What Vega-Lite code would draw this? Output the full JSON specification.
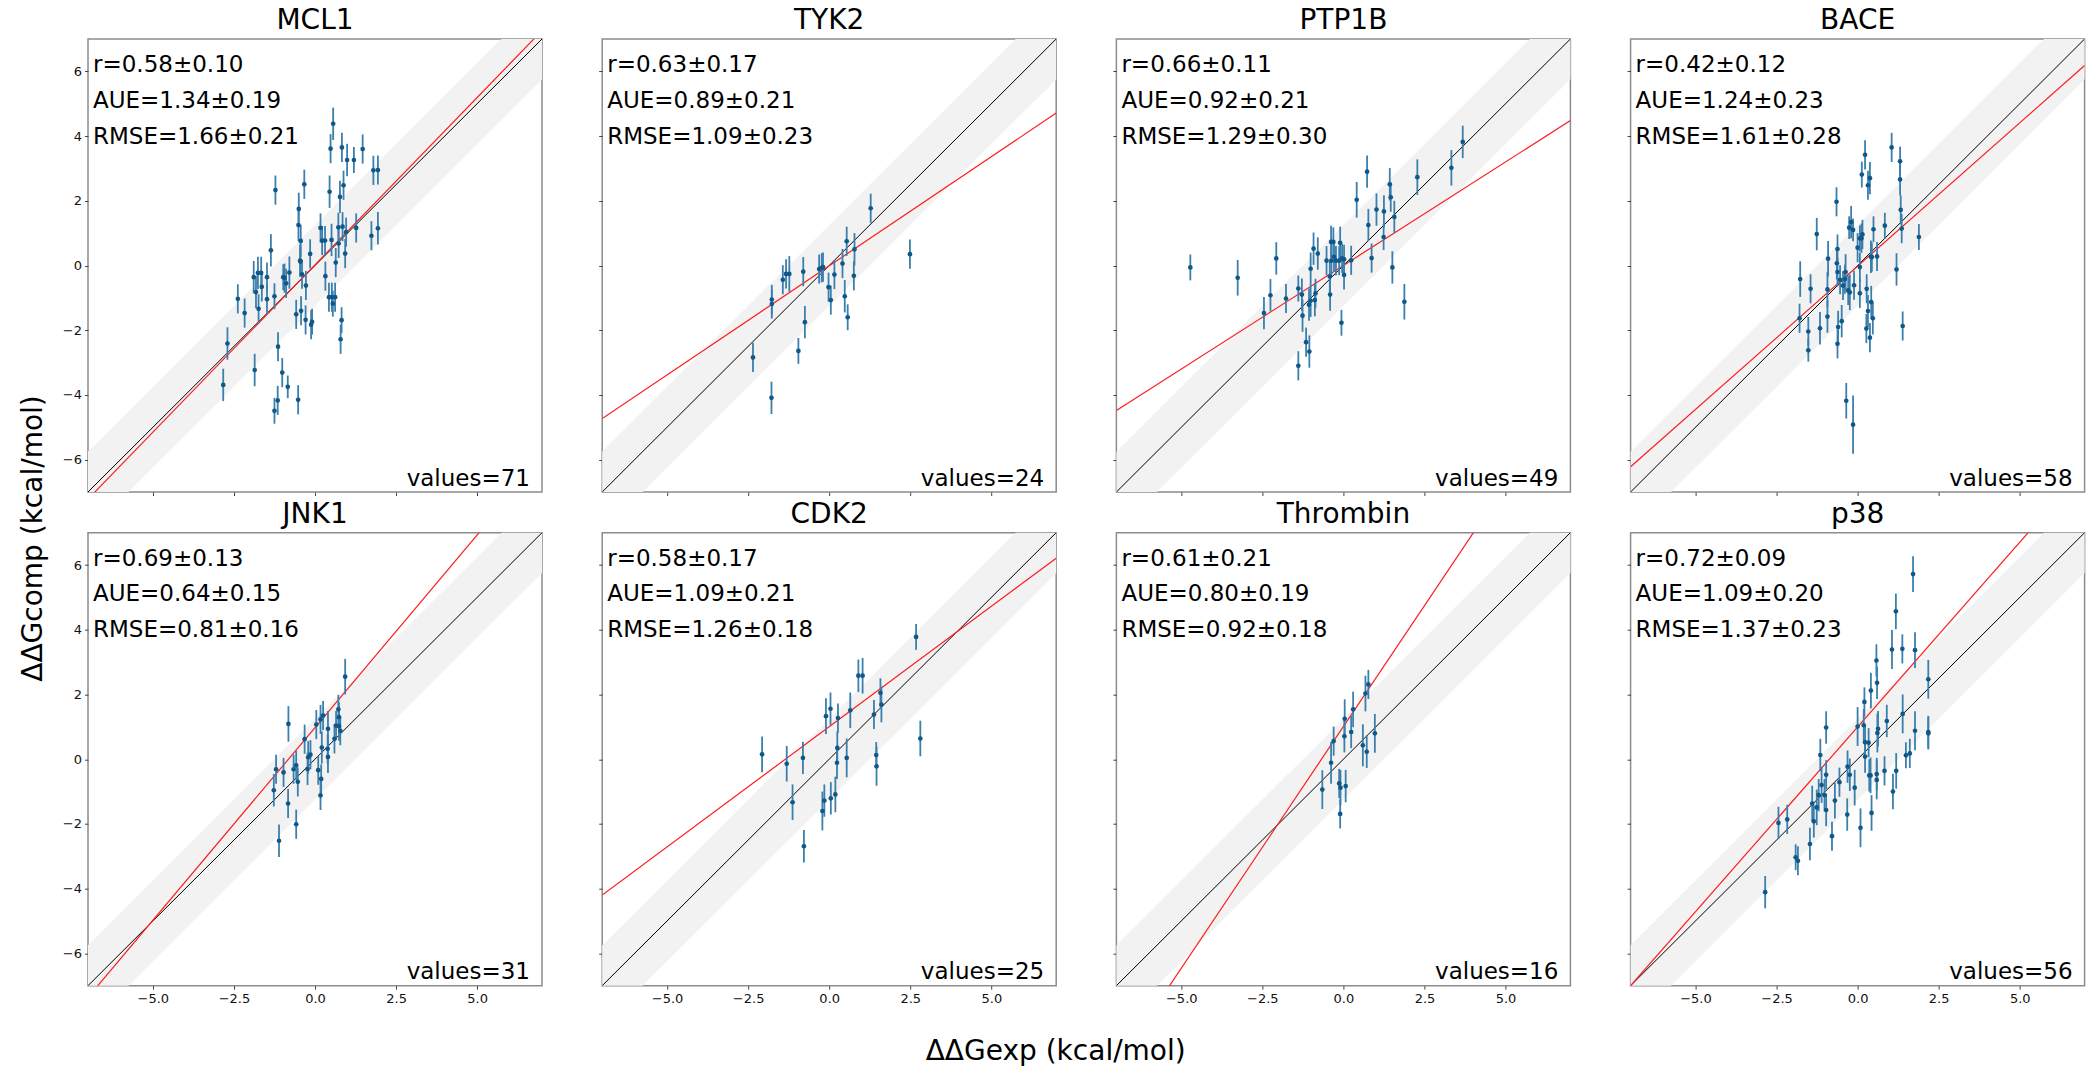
{
 "$schema": "https://vega.github.io/schema/vega-lite/v6.json",
 "background": "white",
 "padding": {"left": 18, "top": 6, "right": 5, "bottom": 5},
 "columns": 4,
 "spacing": {"row": 40.7, "column": 60.2},
 "bounds": "flush",
 "datasets": {
  "band": [{"x": -8, "y": -9.25, "y2": -6.75}, {"x": 8, "y": 6.75, "y2": 9.25}],
  "diag": [{"x": -7, "y": -7}, {"x": 7, "y": 7}],
  "fits": [
   {"panel": "MCL1", "x": -7, "y": -7.22}, {"panel": "MCL1", "x": 7, "y": 7.26},
   {"panel": "TYK2", "x": -7, "y": -4.73}, {"panel": "TYK2", "x": 7, "y": 4.71},
   {"panel": "PTP1B", "x": -7, "y": -4.48}, {"panel": "PTP1B", "x": 7, "y": 4.48},
   {"panel": "BACE", "x": -7, "y": -6.22}, {"panel": "BACE", "x": 7, "y": 6.18},
   {"panel": "JNK1", "x": -7, "y": -7.36}, {"panel": "JNK1", "x": 7, "y": 9.31},
   {"panel": "CDK2", "x": -7, "y": -4.2}, {"panel": "CDK2", "x": 7, "y": 6.21},
   {"panel": "Thrombin", "x": -7, "y": -9.45}, {"panel": "Thrombin", "x": 7, "y": 11.47},
   {"panel": "p38", "x": -7, "y": -7.0}, {"panel": "p38", "x": 7, "y": 8.99}
  ],
  "labels": [
   {"panel": "MCL1", "stats": "r=0.58±0.10\nAUE=1.34±0.19\nRMSE=1.66±0.21", "n": "values=71"},
   {"panel": "TYK2", "stats": "r=0.63±0.17\nAUE=0.89±0.21\nRMSE=1.09±0.23", "n": "values=24"},
   {"panel": "PTP1B", "stats": "r=0.66±0.11\nAUE=0.92±0.21\nRMSE=1.29±0.30", "n": "values=49"},
   {"panel": "BACE", "stats": "r=0.42±0.12\nAUE=1.24±0.23\nRMSE=1.61±0.28", "n": "values=58"},
   {"panel": "JNK1", "stats": "r=0.69±0.13\nAUE=0.64±0.15\nRMSE=0.81±0.16", "n": "values=31"},
   {"panel": "CDK2", "stats": "r=0.58±0.17\nAUE=1.09±0.21\nRMSE=1.26±0.18", "n": "values=25"},
   {"panel": "Thrombin", "stats": "r=0.61±0.21\nAUE=0.80±0.19\nRMSE=0.92±0.18", "n": "values=16"},
   {"panel": "p38", "stats": "r=0.72±0.09\nAUE=1.09±0.20\nRMSE=1.37±0.23", "n": "values=56"}
  ],
  "points": [
   {"panel":"MCL1","x":-1.22,"y":2.33,"err":0.45},{"panel":"MCL1","x":-2.83,"y":-3.69,"err":0.5},{"panel":"MCL1","x":-2.70,"y":-2.41,"err":0.5},{"panel":"MCL1","x":-2.38,"y":-1.03,"err":0.45},{"panel":"MCL1","x":-2.17,"y":-1.47,"err":0.45},{"panel":"MCL1","x":-1.89,"y":-0.36,"err":0.5},{"panel":"MCL1","x":-1.82,"y":-0.82,"err":0.5},{"panel":"MCL1","x":-1.76,"y":-0.23,"err":0.5},{"panel":"MCL1","x":-1.66,"y":-0.23,"err":0.5},{"panel":"MCL1","x":-1.74,"y":-1.34,"err":0.45},{"panel":"MCL1","x":-1.64,"y":-0.66,"err":0.45},{"panel":"MCL1","x":-1.48,"y":-0.36,"err":0.45},{"panel":"MCL1","x":-1.48,"y":-1.04,"err":0.45},{"panel":"MCL1","x":-1.36,"y":0.47,"err":0.5},{"panel":"MCL1","x":-1.25,"y":-0.95,"err":0.4},{"panel":"MCL1","x":-1.86,"y":-3.23,"err":0.5},{"panel":"MCL1","x":-1.25,"y":-4.49,"err":0.4},{"panel":"MCL1","x":-1.15,"y":-4.17,"err":0.45},{"panel":"MCL1","x":-1.14,"y":-2.51,"err":0.45},{"panel":"MCL1","x":-1.01,"y":-3.31,"err":0.45},{"panel":"MCL1","x":-0.84,"y":-3.75,"err":0.35},{"panel":"MCL1","x":-0.52,"y":-4.15,"err":0.45},{"panel":"MCL1","x":-0.98,"y":-0.36,"err":0.4},{"panel":"MCL1","x":-0.94,"y":-0.39,"err":0.45},{"panel":"MCL1","x":-0.89,"y":-0.55,"err":0.45},{"panel":"MCL1","x":-0.79,"y":-0.22,"err":0.5},{"panel":"MCL1","x":-0.58,"y":-1.51,"err":0.45},{"panel":"MCL1","x":-0.50,"y":1.75,"err":0.5},{"panel":"MCL1","x":-0.51,"y":1.25,"err":0.5},{"panel":"MCL1","x":-0.44,"y":0.76,"err":0.5},{"panel":"MCL1","x":-0.46,"y":0.15,"err":0.5},{"panel":"MCL1","x":-0.43,"y":-1.40,"err":0.45},{"panel":"MCL1","x":-0.40,"y":-0.27,"err":0.45},{"panel":"MCL1","x":-0.33,"y":2.51,"err":0.45},{"panel":"MCL1","x":-0.29,"y":-1.68,"err":0.45},{"panel":"MCL1","x":-0.28,"y":-0.62,"err":0.45},{"panel":"MCL1","x":-0.15,"y":0.36,"err":0.45},{"panel":"MCL1","x":-0.12,"y":-1.83,"err":0.45},{"panel":"MCL1","x":-0.09,"y":-1.74,"err":0.4},{"panel":"MCL1","x":0.17,"y":1.16,"err":0.45},{"panel":"MCL1","x":0.22,"y":0.77,"err":0.45},{"panel":"MCL1","x":0.31,"y":0.77,"err":0.45},{"panel":"MCL1","x":0.32,"y":-0.33,"err":0.45},{"panel":"MCL1","x":0.45,"y":2.28,"err":0.5},{"panel":"MCL1","x":0.43,"y":-0.98,"err":0.45},{"panel":"MCL1","x":0.48,"y":3.61,"err":0.45},{"panel":"MCL1","x":0.51,"y":0.79,"err":0.5},{"panel":"MCL1","x":0.56,"y":4.38,"err":0.5},{"panel":"MCL1","x":0.52,"y":-0.98,"err":0.45},{"panel":"MCL1","x":0.55,"y":-1.18,"err":0.4},{"panel":"MCL1","x":0.62,"y":-0.98,"err":0.45},{"panel":"MCL1","x":0.64,"y":0.09,"err":0.45},{"panel":"MCL1","x":0.73,"y":0.68,"err":0.45},{"panel":"MCL1","x":0.77,"y":2.12,"err":0.5},{"panel":"MCL1","x":0.79,"y":-2.28,"err":0.45},{"panel":"MCL1","x":0.82,"y":-1.69,"err":0.4},{"panel":"MCL1","x":0.83,"y":3.65,"err":0.45},{"panel":"MCL1","x":0.85,"y":1.20,"err":0.45},{"panel":"MCL1","x":0.88,"y":2.48,"err":0.45},{"panel":"MCL1","x":0.93,"y":0.37,"err":0.45},{"panel":"MCL1","x":0.96,"y":1.03,"err":0.45},{"panel":"MCL1","x":0.99,"y":3.26,"err":0.5},{"panel":"MCL1","x":1.20,"y":3.26,"err":0.4},{"panel":"MCL1","x":1.27,"y":1.16,"err":0.45},{"panel":"MCL1","x":1.47,"y":3.60,"err":0.45},{"panel":"MCL1","x":1.74,"y":0.92,"err":0.45},{"panel":"MCL1","x":1.80,"y":2.94,"err":0.45},{"panel":"MCL1","x":1.94,"y":2.95,"err":0.45},{"panel":"MCL1","x":1.94,"y":1.15,"err":0.5},{"panel":"MCL1","x":0.72,"y":1.18,"err":0.45},{"panel":"MCL1","x":-0.45,"y":0.12,"err":0.45},
   {"panel":"TYK2","x":1.28,"y":1.77,"err":0.45},{"panel":"TYK2","x":0.54,"y":0.75,"err":0.45},{"panel":"TYK2","x":0.78,"y":0.50,"err":0.5},{"panel":"TYK2","x":0.41,"y":0.06,"err":0.45},{"panel":"TYK2","x":0.16,"y":-0.28,"err":0.45},{"panel":"TYK2","x":0.76,"y":-0.32,"err":0.45},{"panel":"TYK2","x":-0.02,"y":-0.67,"err":0.45},{"panel":"TYK2","x":0.05,"y":-1.07,"err":0.45},{"panel":"TYK2","x":0.48,"y":-0.95,"err":0.5},{"panel":"TYK2","x":0.57,"y":-1.60,"err":0.4},{"panel":"TYK2","x":-0.31,"y":-0.11,"err":0.45},{"panel":"TYK2","x":-0.23,"y":-0.07,"err":0.45},{"panel":"TYK2","x":-0.19,"y":-0.05,"err":0.45},{"panel":"TYK2","x":-0.80,"y":-0.19,"err":0.45},{"panel":"TYK2","x":-1.33,"y":-0.26,"err":0.45},{"panel":"TYK2","x":-1.23,"y":-0.26,"err":0.55},{"panel":"TYK2","x":-1.43,"y":-0.44,"err":0.45},{"panel":"TYK2","x":-1.77,"y":-1.05,"err":0.45},{"panel":"TYK2","x":-1.77,"y":-1.19,"err":0.45},{"panel":"TYK2","x":-0.75,"y":-1.75,"err":0.5},{"panel":"TYK2","x":-0.95,"y":-2.64,"err":0.4},{"panel":"TYK2","x":-2.35,"y":-2.84,"err":0.45},{"panel":"TYK2","x":-1.78,"y":-4.09,"err":0.5},{"panel":"TYK2","x":2.49,"y":0.35,"err":0.45},
   {"panel":"PTP1B","x":-4.72,"y":-0.06,"err":0.4},{"panel":"PTP1B","x":-3.26,"y":-0.38,"err":0.55},{"panel":"PTP1B","x":-2.07,"y":0.22,"err":0.5},{"panel":"PTP1B","x":-2.45,"y":-1.47,"err":0.5},{"panel":"PTP1B","x":-2.25,"y":-0.92,"err":0.5},{"panel":"PTP1B","x":-1.77,"y":-1.02,"err":0.45},{"panel":"PTP1B","x":-1.39,"y":-0.71,"err":0.4},{"panel":"PTP1B","x":-1.28,"y":-0.90,"err":0.5},{"panel":"PTP1B","x":-1.39,"y":-3.10,"err":0.45},{"panel":"PTP1B","x":-1.26,"y":-1.55,"err":0.5},{"panel":"PTP1B","x":-1.15,"y":-2.37,"err":0.45},{"panel":"PTP1B","x":-1.05,"y":-2.66,"err":0.5},{"panel":"PTP1B","x":-1.06,"y":-1.21,"err":0.5},{"panel":"PTP1B","x":-1.01,"y":-1.09,"err":0.5},{"panel":"PTP1B","x":-0.88,"y":-1.07,"err":0.5},{"panel":"PTP1B","x":-0.86,"y":-0.86,"err":0.45},{"panel":"PTP1B","x":-1.01,"y":-0.10,"err":0.5},{"panel":"PTP1B","x":-0.92,"y":0.52,"err":0.5},{"panel":"PTP1B","x":-0.79,"y":0.37,"err":0.5},{"panel":"PTP1B","x":-0.52,"y":0.15,"err":0.45},{"panel":"PTP1B","x":-0.42,"y":-0.34,"err":0.5},{"panel":"PTP1B","x":-0.41,"y":-0.90,"err":0.5},{"panel":"PTP1B","x":-0.38,"y":0.73,"err":0.5},{"panel":"PTP1B","x":-0.31,"y":0.73,"err":0.45},{"panel":"PTP1B","x":-0.37,"y":0.15,"err":0.5},{"panel":"PTP1B","x":-0.29,"y":0.27,"err":0.45},{"panel":"PTP1B","x":-0.23,"y":0.15,"err":0.45},{"panel":"PTP1B","x":-0.10,"y":0.70,"err":0.5},{"panel":"PTP1B","x":-0.06,"y":-1.77,"err":0.4},{"panel":"PTP1B","x":-0.04,"y":0.22,"err":0.45},{"panel":"PTP1B","x":0.02,"y":0.19,"err":0.45},{"panel":"PTP1B","x":0.02,"y":-0.29,"err":0.45},{"panel":"PTP1B","x":0.24,"y":0.16,"err":0.45},{"panel":"PTP1B","x":0.41,"y":2.03,"err":0.55},{"panel":"PTP1B","x":0.73,"y":2.90,"err":0.5},{"panel":"PTP1B","x":0.77,"y":1.25,"err":0.5},{"panel":"PTP1B","x":0.87,"y":0.23,"err":0.45},{"panel":"PTP1B","x":1.02,"y":1.73,"err":0.5},{"panel":"PTP1B","x":1.25,"y":1.67,"err":0.5},{"panel":"PTP1B","x":1.24,"y":0.88,"err":0.4},{"panel":"PTP1B","x":1.43,"y":2.51,"err":0.5},{"panel":"PTP1B","x":1.46,"y":2.11,"err":0.45},{"panel":"PTP1B","x":1.57,"y":1.50,"err":0.5},{"panel":"PTP1B","x":1.51,"y":-0.06,"err":0.5},{"panel":"PTP1B","x":1.88,"y":-1.12,"err":0.55},{"panel":"PTP1B","x":2.28,"y":2.73,"err":0.55},{"panel":"PTP1B","x":3.33,"y":3.02,"err":0.55},{"panel":"PTP1B","x":3.68,"y":3.82,"err":0.5},{"panel":"PTP1B","x":-0.13,"y":0.15,"err":0.45},
   {"panel":"BACE","x":1.05,"y":3.65,"err":0.45},{"panel":"BACE","x":0.23,"y":3.42,"err":0.45},{"panel":"BACE","x":0.13,"y":2.81,"err":0.4},{"panel":"BACE","x":0.38,"y":2.70,"err":0.5},{"panel":"BACE","x":0.32,"y":2.48,"err":0.45},{"panel":"BACE","x":1.31,"y":3.22,"err":0.45},{"panel":"BACE","x":1.31,"y":2.66,"err":0.5},{"panel":"BACE","x":-0.65,"y":1.97,"err":0.45},{"panel":"BACE","x":1.33,"y":1.72,"err":0.45},{"panel":"BACE","x":-1.26,"y":0.97,"err":0.5},{"panel":"BACE","x":-0.26,"y":1.17,"err":0.35},{"panel":"BACE","x":-0.20,"y":1.34,"err":0.5},{"panel":"BACE","x":-0.14,"y":1.10,"err":0.35},{"panel":"BACE","x":0.15,"y":0.96,"err":0.45},{"panel":"BACE","x":0.07,"y":0.84,"err":0.4},{"panel":"BACE","x":0.00,"y":0.55,"err":0.45},{"panel":"BACE","x":0.12,"y":0.84,"err":0.45},{"panel":"BACE","x":0.49,"y":1.12,"err":0.4},{"panel":"BACE","x":0.84,"y":1.23,"err":0.4},{"panel":"BACE","x":1.36,"y":1.14,"err":0.45},{"panel":"BACE","x":1.89,"y":0.88,"err":0.4},{"panel":"BACE","x":-0.62,"y":0.51,"err":0.45},{"panel":"BACE","x":-0.91,"y":0.21,"err":0.55},{"panel":"BACE","x":-0.64,"y":0.07,"err":0.5},{"panel":"BACE","x":-0.62,"y":-0.20,"err":0.45},{"panel":"BACE","x":-0.37,"y":-0.20,"err":0.55},{"panel":"BACE","x":-0.39,"y":-0.42,"err":0.45},{"panel":"BACE","x":-0.54,"y":-0.44,"err":0.45},{"panel":"BACE","x":-0.45,"y":-0.62,"err":0.45},{"panel":"BACE","x":-0.29,"y":-0.77,"err":0.45},{"panel":"BACE","x":-0.24,"y":-0.83,"err":0.55},{"panel":"BACE","x":-0.11,"y":-0.61,"err":0.45},{"panel":"BACE","x":0.07,"y":-0.05,"err":0.45},{"panel":"BACE","x":0.41,"y":0.27,"err":0.5},{"panel":"BACE","x":0.60,"y":0.28,"err":0.45},{"panel":"BACE","x":0.44,"y":0.26,"err":0.45},{"panel":"BACE","x":1.20,"y":-0.12,"err":0.5},{"panel":"BACE","x":-1.77,"y":-0.42,"err":0.55},{"panel":"BACE","x":-1.45,"y":-0.72,"err":0.45},{"panel":"BACE","x":-0.93,"y":-0.74,"err":0.55},{"panel":"BACE","x":0.07,"y":-0.86,"err":0.45},{"panel":"BACE","x":0.28,"y":-0.72,"err":0.45},{"panel":"BACE","x":0.42,"y":-1.13,"err":0.5},{"panel":"BACE","x":0.32,"y":-1.41,"err":0.5},{"panel":"BACE","x":0.47,"y":-1.63,"err":0.5},{"panel":"BACE","x":-1.79,"y":-1.63,"err":0.45},{"panel":"BACE","x":-1.52,"y":-2.04,"err":0.45},{"panel":"BACE","x":-1.16,"y":-1.94,"err":0.5},{"panel":"BACE","x":-0.93,"y":-1.58,"err":0.5},{"panel":"BACE","x":-0.49,"y":-1.72,"err":0.5},{"panel":"BACE","x":-0.60,"y":-1.90,"err":0.5},{"panel":"BACE","x":0.27,"y":-1.95,"err":0.45},{"panel":"BACE","x":0.38,"y":-2.23,"err":0.45},{"panel":"BACE","x":-0.62,"y":-2.42,"err":0.45},{"panel":"BACE","x":-1.52,"y":-2.62,"err":0.35},{"panel":"BACE","x":1.39,"y":-1.87,"err":0.45},{"panel":"BACE","x":-0.35,"y":-4.18,"err":0.55},{"panel":"BACE","x":-0.14,"y":-4.92,"err":0.9},
   {"panel":"JNK1","x":0.93,"y":2.55,"err":0.55},{"panel":"JNK1","x":0.72,"y":1.54,"err":0.45},{"panel":"JNK1","x":0.74,"y":1.30,"err":0.45},{"panel":"JNK1","x":0.74,"y":1.02,"err":0.45},{"panel":"JNK1","x":0.65,"y":1.04,"err":0.45},{"panel":"JNK1","x":0.78,"y":0.88,"err":0.45},{"panel":"JNK1","x":0.60,"y":0.63,"err":0.45},{"panel":"JNK1","x":0.40,"y":0.94,"err":0.55},{"panel":"JNK1","x":0.25,"y":1.35,"err":0.45},{"panel":"JNK1","x":0.17,"y":1.23,"err":0.45},{"panel":"JNK1","x":0.04,"y":1.07,"err":0.45},{"panel":"JNK1","x":0.21,"y":0.36,"err":0.5},{"panel":"JNK1","x":0.39,"y":0.32,"err":0.45},{"panel":"JNK1","x":0.40,"y":0.07,"err":0.5},{"panel":"JNK1","x":0.10,"y":-0.34,"err":0.45},{"panel":"JNK1","x":0.19,"y":-0.61,"err":0.45},{"panel":"JNK1","x":0.17,"y":-1.12,"err":0.45},{"panel":"JNK1","x":-0.32,"y":0.62,"err":0.45},{"panel":"JNK1","x":-0.14,"y":0.14,"err":0.45},{"panel":"JNK1","x":-0.21,"y":0.06,"err":0.5},{"panel":"JNK1","x":-0.23,"y":-0.30,"err":0.5},{"panel":"JNK1","x":-0.82,"y":1.09,"err":0.55},{"panel":"JNK1","x":-0.58,"y":-0.19,"err":0.45},{"panel":"JNK1","x":-0.66,"y":-0.31,"err":0.45},{"panel":"JNK1","x":-0.53,"y":-0.70,"err":0.45},{"panel":"JNK1","x":-0.97,"y":-0.41,"err":0.45},{"panel":"JNK1","x":-1.20,"y":-0.31,"err":0.45},{"panel":"JNK1","x":-1.27,"y":-0.96,"err":0.5},{"panel":"JNK1","x":-0.83,"y":-1.37,"err":0.45},{"panel":"JNK1","x":-0.58,"y":-2.01,"err":0.45},{"panel":"JNK1","x":-1.11,"y":-2.52,"err":0.5},
   {"panel":"CDK2","x":2.68,"y":3.78,"err":0.4},{"panel":"CDK2","x":0.90,"y":2.58,"err":0.5},{"panel":"CDK2","x":1.03,"y":2.58,"err":0.55},{"panel":"CDK2","x":1.58,"y":2.05,"err":0.45},{"panel":"CDK2","x":1.61,"y":1.69,"err":0.55},{"panel":"CDK2","x":1.38,"y":1.38,"err":0.45},{"panel":"CDK2","x":0.65,"y":1.51,"err":0.55},{"panel":"CDK2","x":0.04,"y":1.56,"err":0.5},{"panel":"CDK2","x":-0.10,"y":1.33,"err":0.55},{"panel":"CDK2","x":0.27,"y":1.27,"err":0.45},{"panel":"CDK2","x":0.25,"y":0.35,"err":0.5},{"panel":"CDK2","x":0.24,"y":-0.11,"err":0.5},{"panel":"CDK2","x":0.54,"y":0.04,"err":0.6},{"panel":"CDK2","x":1.45,"y":0.13,"err":0.4},{"panel":"CDK2","x":1.46,"y":-0.22,"err":0.6},{"panel":"CDK2","x":2.81,"y":0.64,"err":0.55},{"panel":"CDK2","x":-2.07,"y":0.15,"err":0.55},{"panel":"CDK2","x":-1.31,"y":-0.14,"err":0.55},{"panel":"CDK2","x":-0.81,"y":0.04,"err":0.5},{"panel":"CDK2","x":-1.13,"y":-1.33,"err":0.55},{"panel":"CDK2","x":-0.15,"y":-1.28,"err":0.5},{"panel":"CDK2","x":-0.21,"y":-1.60,"err":0.6},{"panel":"CDK2","x":0.05,"y":-1.21,"err":0.5},{"panel":"CDK2","x":0.19,"y":-1.09,"err":0.55},{"panel":"CDK2","x":-0.78,"y":-2.69,"err":0.5},
   {"panel":"Thrombin","x":0.77,"y":2.31,"err":0.45},{"panel":"Thrombin","x":0.68,"y":2.03,"err":0.55},{"panel":"Thrombin","x":0.30,"y":1.54,"err":0.55},{"panel":"Thrombin","x":0.04,"y":1.25,"err":0.6},{"panel":"Thrombin","x":0.24,"y":0.84,"err":0.5},{"panel":"Thrombin","x":0.03,"y":0.71,"err":0.5},{"panel":"Thrombin","x":-0.30,"y":0.56,"err":0.45},{"panel":"Thrombin","x":0.60,"y":0.43,"err":0.65},{"panel":"Thrombin","x":0.72,"y":0.23,"err":0.5},{"panel":"Thrombin","x":0.97,"y":0.80,"err":0.6},{"panel":"Thrombin","x":-0.38,"y":-0.11,"err":0.65},{"panel":"Thrombin","x":-0.13,"y":-0.75,"err":0.45},{"panel":"Thrombin","x":-0.09,"y":-0.88,"err":0.55},{"panel":"Thrombin","x":0.07,"y":-0.83,"err":0.5},{"panel":"Thrombin","x":-0.65,"y":-0.94,"err":0.6},{"panel":"Thrombin","x":-0.10,"y":-1.69,"err":0.45},
   {"panel":"p38","x":1.71,"y":5.72,"err":0.55},{"panel":"p38","x":1.18,"y":4.57,"err":0.55},{"panel":"p38","x":1.06,"y":3.39,"err":0.6},{"panel":"p38","x":1.38,"y":3.41,"err":0.45},{"panel":"p38","x":1.77,"y":3.37,"err":0.55},{"panel":"p38","x":0.58,"y":3.05,"err":0.5},{"panel":"p38","x":0.60,"y":2.36,"err":0.5},{"panel":"p38","x":0.41,"y":2.12,"err":0.55},{"panel":"p38","x":0.21,"y":1.77,"err":0.45},{"panel":"p38","x":2.18,"y":2.47,"err":0.6},{"panel":"p38","x":1.39,"y":1.40,"err":0.6},{"panel":"p38","x":0.90,"y":1.18,"err":0.5},{"panel":"p38","x":0.63,"y":0.94,"err":0.55},{"panel":"p38","x":0.61,"y":0.81,"err":0.6},{"panel":"p38","x":1.77,"y":0.88,"err":0.6},{"panel":"p38","x":2.18,"y":0.84,"err":0.5},{"panel":"p38","x":2.18,"y":0.80,"err":0.5},{"panel":"p38","x":-0.97,"y":0.98,"err":0.5},{"panel":"p38","x":0.00,"y":1.01,"err":0.6},{"panel":"p38","x":0.19,"y":1.05,"err":0.5},{"panel":"p38","x":0.23,"y":0.52,"err":0.5},{"panel":"p38","x":0.34,"y":0.51,"err":0.45},{"panel":"p38","x":0.23,"y":0.08,"err":0.5},{"panel":"p38","x":-1.15,"y":0.13,"err":0.5},{"panel":"p38","x":1.49,"y":0.12,"err":0.4},{"panel":"p38","x":1.61,"y":0.18,"err":0.45},{"panel":"p38","x":-0.31,"y":-0.23,"err":0.5},{"panel":"p38","x":-0.24,"y":-0.48,"err":0.5},{"panel":"p38","x":0.40,"y":-0.50,"err":0.55},{"panel":"p38","x":0.59,"y":-0.46,"err":0.5},{"panel":"p38","x":0.59,"y":-0.64,"err":0.6},{"panel":"p38","x":0.83,"y":-0.36,"err":0.45},{"panel":"p38","x":1.19,"y":-0.36,"err":0.55},{"panel":"p38","x":-0.97,"y":-0.48,"err":0.45},{"panel":"p38","x":-1.11,"y":-0.80,"err":0.55},{"panel":"p38","x":-0.56,"y":-0.71,"err":0.45},{"panel":"p38","x":-1.20,"y":-1.11,"err":0.5},{"panel":"p38","x":-0.09,"y":-0.88,"err":0.55},{"panel":"p38","x":1.09,"y":-1.00,"err":0.55},{"panel":"p38","x":-1.40,"y":-1.37,"err":0.55},{"panel":"p38","x":-1.26,"y":-1.49,"err":0.55},{"panel":"p38","x":-0.70,"y":-1.28,"err":0.55},{"panel":"p38","x":-0.97,"y":-1.57,"err":0.5},{"panel":"p38","x":-1.35,"y":-1.92,"err":0.5},{"panel":"p38","x":-0.32,"y":-1.71,"err":0.5},{"panel":"p38","x":0.43,"y":-1.66,"err":0.55},{"panel":"p38","x":0.09,"y":-2.12,"err":0.6},{"panel":"p38","x":-0.79,"y":-2.38,"err":0.45},{"panel":"p38","x":-1.47,"y":-2.62,"err":0.5},{"panel":"p38","x":-2.44,"y":-1.97,"err":0.5},{"panel":"p38","x":-2.17,"y":-1.86,"err":0.45},{"panel":"p38","x":-1.91,"y":-3.03,"err":0.4},{"panel":"p38","x":-1.84,"y":-3.14,"err":0.45},{"panel":"p38","x":-2.85,"y":-4.11,"err":0.5},{"panel":"p38","x":-1.02,"y":-1.11,"err":0.5},{"panel":"p38","x":0.36,"y":-0.50,"err":0.5}
  ]
 },
 "concat": [
  {"width": 454, "height": 453, "title": "MCL1",
   "layer": [
    {"encoding": {"x": {"field": "x", "type": "quantitative", "scale": {"domain": [-7, 7], "nice": false, "zero": false}, "axis": {"values": [-5, -2.5, 0, 2.5, 5], "format": ".1f", "labels": false, "title": null}},
                  "y": {"field": "y", "type": "quantitative", "scale": {"domain": [-7, 7], "nice": false, "zero": false}, "axis": {"values": [-6, -4, -2, 0, 2, 4, 6], "labels": true, "title": "ΔΔGcomp (kcal/mol)", "titleX": -55, "titleY": 499, "titleAngle": 270, "titleAlign": "center", "titleBaseline": "middle"}}},
     "layer": [
      {"data": {"name": "band"}, "mark": {"type": "area", "color": "#f2f2f2", "clip": true}, "encoding": {"y2": {"field": "y2"}}},
      {"data": {"name": "diag"}, "mark": {"type": "line", "color": "#000000", "strokeWidth": 1, "clip": true}, "encoding": {}},
      {"data": {"name": "fits"}, "transform": [{"filter": "datum.panel === 'MCL1'"}], "mark": {"type": "line", "color": "#ff1a1a", "strokeWidth": 1.2, "clip": true}, "encoding": {}},
      {"data": {"name": "points"}, "transform": [{"filter": "datum.panel === 'MCL1'"}], "mark": {"type": "errorbar", "ticks": false, "thickness": 1.8, "color": "#3b7fad"}, "encoding": {"yError": {"field": "err"}}},
      {"data": {"name": "points"}, "transform": [{"filter": "datum.panel === 'MCL1'"}], "mark": {"type": "circle", "size": 22, "color": "#105888", "opacity": 1}, "encoding": {}}
     ]},
    {"data": {"name": "labels"}, "transform": [{"filter": "datum.panel === 'MCL1'"}], "mark": {"type": "text", "align": "left", "baseline": "middle", "lineBreak": "\n", "lineHeight": 35.8, "fontSize": 23, "dx": 5, "dy": 26, "fill": "#000000"}, "encoding": {"x": {"datum": -7, "type": "quantitative", "scale": {"domain": [-7, 7], "nice": false, "zero": false}}, "y": {"datum": 7, "type": "quantitative", "scale": {"domain": [-7, 7], "nice": false, "zero": false}}, "text": {"field": "stats", "type": "nominal"}}},
    {"data": {"name": "labels"}, "transform": [{"filter": "datum.panel === 'MCL1'"}], "mark": {"type": "text", "align": "right", "baseline": "middle", "fontSize": 23, "dx": -12, "dy": -13.5, "fill": "#000000"}, "encoding": {"x": {"datum": 7, "type": "quantitative", "scale": {"domain": [-7, 7], "nice": false, "zero": false}}, "y": {"datum": -7, "type": "quantitative", "scale": {"domain": [-7, 7], "nice": false, "zero": false}}, "text": {"field": "n", "type": "nominal"}}}
   ]},
  {"width": 454, "height": 453, "title": "TYK2",
   "layer": [
    {"encoding": {"x": {"field": "x", "type": "quantitative", "scale": {"domain": [-7, 7], "nice": false, "zero": false}, "axis": {"values": [-5, -2.5, 0, 2.5, 5], "format": ".1f", "labels": false, "title": null}},
                  "y": {"field": "y", "type": "quantitative", "scale": {"domain": [-7, 7], "nice": false, "zero": false}, "axis": {"values": [-6, -4, -2, 0, 2, 4, 6], "labels": false, "title": null}}},
     "layer": [
      {"data": {"name": "band"}, "mark": {"type": "area", "color": "#f2f2f2", "clip": true}, "encoding": {"y2": {"field": "y2"}}},
      {"data": {"name": "diag"}, "mark": {"type": "line", "color": "#000000", "strokeWidth": 1, "clip": true}, "encoding": {}},
      {"data": {"name": "fits"}, "transform": [{"filter": "datum.panel === 'TYK2'"}], "mark": {"type": "line", "color": "#ff1a1a", "strokeWidth": 1.2, "clip": true}, "encoding": {}},
      {"data": {"name": "points"}, "transform": [{"filter": "datum.panel === 'TYK2'"}], "mark": {"type": "errorbar", "ticks": false, "thickness": 1.8, "color": "#3b7fad"}, "encoding": {"yError": {"field": "err"}}},
      {"data": {"name": "points"}, "transform": [{"filter": "datum.panel === 'TYK2'"}], "mark": {"type": "circle", "size": 22, "color": "#105888", "opacity": 1}, "encoding": {}}
     ]},
    {"data": {"name": "labels"}, "transform": [{"filter": "datum.panel === 'TYK2'"}], "mark": {"type": "text", "align": "left", "baseline": "middle", "lineBreak": "\n", "lineHeight": 35.8, "fontSize": 23, "dx": 5, "dy": 26, "fill": "#000000"}, "encoding": {"x": {"datum": -7, "type": "quantitative", "scale": {"domain": [-7, 7], "nice": false, "zero": false}}, "y": {"datum": 7, "type": "quantitative", "scale": {"domain": [-7, 7], "nice": false, "zero": false}}, "text": {"field": "stats", "type": "nominal"}}},
    {"data": {"name": "labels"}, "transform": [{"filter": "datum.panel === 'TYK2'"}], "mark": {"type": "text", "align": "right", "baseline": "middle", "fontSize": 23, "dx": -12, "dy": -13.5, "fill": "#000000"}, "encoding": {"x": {"datum": 7, "type": "quantitative", "scale": {"domain": [-7, 7], "nice": false, "zero": false}}, "y": {"datum": -7, "type": "quantitative", "scale": {"domain": [-7, 7], "nice": false, "zero": false}}, "text": {"field": "n", "type": "nominal"}}}
   ]},
  {"width": 454, "height": 453, "title": "PTP1B",
   "layer": [
    {"encoding": {"x": {"field": "x", "type": "quantitative", "scale": {"domain": [-7, 7], "nice": false, "zero": false}, "axis": {"values": [-5, -2.5, 0, 2.5, 5], "format": ".1f", "labels": false, "title": null}},
                  "y": {"field": "y", "type": "quantitative", "scale": {"domain": [-7, 7], "nice": false, "zero": false}, "axis": {"values": [-6, -4, -2, 0, 2, 4, 6], "labels": false, "title": null}}},
     "layer": [
      {"data": {"name": "band"}, "mark": {"type": "area", "color": "#f2f2f2", "clip": true}, "encoding": {"y2": {"field": "y2"}}},
      {"data": {"name": "diag"}, "mark": {"type": "line", "color": "#000000", "strokeWidth": 1, "clip": true}, "encoding": {}},
      {"data": {"name": "fits"}, "transform": [{"filter": "datum.panel === 'PTP1B'"}], "mark": {"type": "line", "color": "#ff1a1a", "strokeWidth": 1.2, "clip": true}, "encoding": {}},
      {"data": {"name": "points"}, "transform": [{"filter": "datum.panel === 'PTP1B'"}], "mark": {"type": "errorbar", "ticks": false, "thickness": 1.8, "color": "#3b7fad"}, "encoding": {"yError": {"field": "err"}}},
      {"data": {"name": "points"}, "transform": [{"filter": "datum.panel === 'PTP1B'"}], "mark": {"type": "circle", "size": 22, "color": "#105888", "opacity": 1}, "encoding": {}}
     ]},
    {"data": {"name": "labels"}, "transform": [{"filter": "datum.panel === 'PTP1B'"}], "mark": {"type": "text", "align": "left", "baseline": "middle", "lineBreak": "\n", "lineHeight": 35.8, "fontSize": 23, "dx": 5, "dy": 26, "fill": "#000000"}, "encoding": {"x": {"datum": -7, "type": "quantitative", "scale": {"domain": [-7, 7], "nice": false, "zero": false}}, "y": {"datum": 7, "type": "quantitative", "scale": {"domain": [-7, 7], "nice": false, "zero": false}}, "text": {"field": "stats", "type": "nominal"}}},
    {"data": {"name": "labels"}, "transform": [{"filter": "datum.panel === 'PTP1B'"}], "mark": {"type": "text", "align": "right", "baseline": "middle", "fontSize": 23, "dx": -12, "dy": -13.5, "fill": "#000000"}, "encoding": {"x": {"datum": 7, "type": "quantitative", "scale": {"domain": [-7, 7], "nice": false, "zero": false}}, "y": {"datum": -7, "type": "quantitative", "scale": {"domain": [-7, 7], "nice": false, "zero": false}}, "text": {"field": "n", "type": "nominal"}}}
   ]},
  {"width": 454, "height": 453, "title": "BACE",
   "layer": [
    {"encoding": {"x": {"field": "x", "type": "quantitative", "scale": {"domain": [-7, 7], "nice": false, "zero": false}, "axis": {"values": [-5, -2.5, 0, 2.5, 5], "format": ".1f", "labels": false, "title": null}},
                  "y": {"field": "y", "type": "quantitative", "scale": {"domain": [-7, 7], "nice": false, "zero": false}, "axis": {"values": [-6, -4, -2, 0, 2, 4, 6], "labels": false, "title": null}}},
     "layer": [
      {"data": {"name": "band"}, "mark": {"type": "area", "color": "#f2f2f2", "clip": true}, "encoding": {"y2": {"field": "y2"}}},
      {"data": {"name": "diag"}, "mark": {"type": "line", "color": "#000000", "strokeWidth": 1, "clip": true}, "encoding": {}},
      {"data": {"name": "fits"}, "transform": [{"filter": "datum.panel === 'BACE'"}], "mark": {"type": "line", "color": "#ff1a1a", "strokeWidth": 1.2, "clip": true}, "encoding": {}},
      {"data": {"name": "points"}, "transform": [{"filter": "datum.panel === 'BACE'"}], "mark": {"type": "errorbar", "ticks": false, "thickness": 1.8, "color": "#3b7fad"}, "encoding": {"yError": {"field": "err"}}},
      {"data": {"name": "points"}, "transform": [{"filter": "datum.panel === 'BACE'"}], "mark": {"type": "circle", "size": 22, "color": "#105888", "opacity": 1}, "encoding": {}}
     ]},
    {"data": {"name": "labels"}, "transform": [{"filter": "datum.panel === 'BACE'"}], "mark": {"type": "text", "align": "left", "baseline": "middle", "lineBreak": "\n", "lineHeight": 35.8, "fontSize": 23, "dx": 5, "dy": 26, "fill": "#000000"}, "encoding": {"x": {"datum": -7, "type": "quantitative", "scale": {"domain": [-7, 7], "nice": false, "zero": false}}, "y": {"datum": 7, "type": "quantitative", "scale": {"domain": [-7, 7], "nice": false, "zero": false}}, "text": {"field": "stats", "type": "nominal"}}},
    {"data": {"name": "labels"}, "transform": [{"filter": "datum.panel === 'BACE'"}], "mark": {"type": "text", "align": "right", "baseline": "middle", "fontSize": 23, "dx": -12, "dy": -13.5, "fill": "#000000"}, "encoding": {"x": {"datum": 7, "type": "quantitative", "scale": {"domain": [-7, 7], "nice": false, "zero": false}}, "y": {"datum": -7, "type": "quantitative", "scale": {"domain": [-7, 7], "nice": false, "zero": false}}, "text": {"field": "n", "type": "nominal"}}}
   ]},
  {"width": 454, "height": 453, "title": "JNK1",
   "layer": [
    {"encoding": {"x": {"field": "x", "type": "quantitative", "scale": {"domain": [-7, 7], "nice": false, "zero": false}, "axis": {"values": [-5, -2.5, 0, 2.5, 5], "format": ".1f", "labels": true, "title": null}},
                  "y": {"field": "y", "type": "quantitative", "scale": {"domain": [-7, 7], "nice": false, "zero": false}, "axis": {"values": [-6, -4, -2, 0, 2, 4, 6], "labels": true, "title": null}}},
     "layer": [
      {"data": {"name": "band"}, "mark": {"type": "area", "color": "#f2f2f2", "clip": true}, "encoding": {"y2": {"field": "y2"}}},
      {"data": {"name": "diag"}, "mark": {"type": "line", "color": "#000000", "strokeWidth": 1, "clip": true}, "encoding": {}},
      {"data": {"name": "fits"}, "transform": [{"filter": "datum.panel === 'JNK1'"}], "mark": {"type": "line", "color": "#ff1a1a", "strokeWidth": 1.2, "clip": true}, "encoding": {}},
      {"data": {"name": "points"}, "transform": [{"filter": "datum.panel === 'JNK1'"}], "mark": {"type": "errorbar", "ticks": false, "thickness": 1.8, "color": "#3b7fad"}, "encoding": {"yError": {"field": "err"}}},
      {"data": {"name": "points"}, "transform": [{"filter": "datum.panel === 'JNK1'"}], "mark": {"type": "circle", "size": 22, "color": "#105888", "opacity": 1}, "encoding": {}}
     ]},
    {"data": {"name": "labels"}, "transform": [{"filter": "datum.panel === 'JNK1'"}], "mark": {"type": "text", "align": "left", "baseline": "middle", "lineBreak": "\n", "lineHeight": 35.8, "fontSize": 23, "dx": 5, "dy": 26, "fill": "#000000"}, "encoding": {"x": {"datum": -7, "type": "quantitative", "scale": {"domain": [-7, 7], "nice": false, "zero": false}}, "y": {"datum": 7, "type": "quantitative", "scale": {"domain": [-7, 7], "nice": false, "zero": false}}, "text": {"field": "stats", "type": "nominal"}}},
    {"data": {"name": "labels"}, "transform": [{"filter": "datum.panel === 'JNK1'"}], "mark": {"type": "text", "align": "right", "baseline": "middle", "fontSize": 23, "dx": -12, "dy": -13.5, "fill": "#000000"}, "encoding": {"x": {"datum": 7, "type": "quantitative", "scale": {"domain": [-7, 7], "nice": false, "zero": false}}, "y": {"datum": -7, "type": "quantitative", "scale": {"domain": [-7, 7], "nice": false, "zero": false}}, "text": {"field": "n", "type": "nominal"}}}
   ]},
  {"width": 454, "height": 453, "title": "CDK2",
   "layer": [
    {"encoding": {"x": {"field": "x", "type": "quantitative", "scale": {"domain": [-7, 7], "nice": false, "zero": false}, "axis": {"values": [-5, -2.5, 0, 2.5, 5], "format": ".1f", "labels": true, "title": "ΔΔGexp (kcal/mol)", "titleX": 453, "titleY": 66, "titleAlign": "center", "titleBaseline": "middle"}},
                  "y": {"field": "y", "type": "quantitative", "scale": {"domain": [-7, 7], "nice": false, "zero": false}, "axis": {"values": [-6, -4, -2, 0, 2, 4, 6], "labels": false, "title": null}}},
     "layer": [
      {"data": {"name": "band"}, "mark": {"type": "area", "color": "#f2f2f2", "clip": true}, "encoding": {"y2": {"field": "y2"}}},
      {"data": {"name": "diag"}, "mark": {"type": "line", "color": "#000000", "strokeWidth": 1, "clip": true}, "encoding": {}},
      {"data": {"name": "fits"}, "transform": [{"filter": "datum.panel === 'CDK2'"}], "mark": {"type": "line", "color": "#ff1a1a", "strokeWidth": 1.2, "clip": true}, "encoding": {}},
      {"data": {"name": "points"}, "transform": [{"filter": "datum.panel === 'CDK2'"}], "mark": {"type": "errorbar", "ticks": false, "thickness": 1.8, "color": "#3b7fad"}, "encoding": {"yError": {"field": "err"}}},
      {"data": {"name": "points"}, "transform": [{"filter": "datum.panel === 'CDK2'"}], "mark": {"type": "circle", "size": 22, "color": "#105888", "opacity": 1}, "encoding": {}}
     ]},
    {"data": {"name": "labels"}, "transform": [{"filter": "datum.panel === 'CDK2'"}], "mark": {"type": "text", "align": "left", "baseline": "middle", "lineBreak": "\n", "lineHeight": 35.8, "fontSize": 23, "dx": 5, "dy": 26, "fill": "#000000"}, "encoding": {"x": {"datum": -7, "type": "quantitative", "scale": {"domain": [-7, 7], "nice": false, "zero": false}}, "y": {"datum": 7, "type": "quantitative", "scale": {"domain": [-7, 7], "nice": false, "zero": false}}, "text": {"field": "stats", "type": "nominal"}}},
    {"data": {"name": "labels"}, "transform": [{"filter": "datum.panel === 'CDK2'"}], "mark": {"type": "text", "align": "right", "baseline": "middle", "fontSize": 23, "dx": -12, "dy": -13.5, "fill": "#000000"}, "encoding": {"x": {"datum": 7, "type": "quantitative", "scale": {"domain": [-7, 7], "nice": false, "zero": false}}, "y": {"datum": -7, "type": "quantitative", "scale": {"domain": [-7, 7], "nice": false, "zero": false}}, "text": {"field": "n", "type": "nominal"}}}
   ]},
  {"width": 454, "height": 453, "title": "Thrombin",
   "layer": [
    {"encoding": {"x": {"field": "x", "type": "quantitative", "scale": {"domain": [-7, 7], "nice": false, "zero": false}, "axis": {"values": [-5, -2.5, 0, 2.5, 5], "format": ".1f", "labels": true, "title": null}},
                  "y": {"field": "y", "type": "quantitative", "scale": {"domain": [-7, 7], "nice": false, "zero": false}, "axis": {"values": [-6, -4, -2, 0, 2, 4, 6], "labels": false, "title": null}}},
     "layer": [
      {"data": {"name": "band"}, "mark": {"type": "area", "color": "#f2f2f2", "clip": true}, "encoding": {"y2": {"field": "y2"}}},
      {"data": {"name": "diag"}, "mark": {"type": "line", "color": "#000000", "strokeWidth": 1, "clip": true}, "encoding": {}},
      {"data": {"name": "fits"}, "transform": [{"filter": "datum.panel === 'Thrombin'"}], "mark": {"type": "line", "color": "#ff1a1a", "strokeWidth": 1.2, "clip": true}, "encoding": {}},
      {"data": {"name": "points"}, "transform": [{"filter": "datum.panel === 'Thrombin'"}], "mark": {"type": "errorbar", "ticks": false, "thickness": 1.8, "color": "#3b7fad"}, "encoding": {"yError": {"field": "err"}}},
      {"data": {"name": "points"}, "transform": [{"filter": "datum.panel === 'Thrombin'"}], "mark": {"type": "circle", "size": 22, "color": "#105888", "opacity": 1}, "encoding": {}}
     ]},
    {"data": {"name": "labels"}, "transform": [{"filter": "datum.panel === 'Thrombin'"}], "mark": {"type": "text", "align": "left", "baseline": "middle", "lineBreak": "\n", "lineHeight": 35.8, "fontSize": 23, "dx": 5, "dy": 26, "fill": "#000000"}, "encoding": {"x": {"datum": -7, "type": "quantitative", "scale": {"domain": [-7, 7], "nice": false, "zero": false}}, "y": {"datum": 7, "type": "quantitative", "scale": {"domain": [-7, 7], "nice": false, "zero": false}}, "text": {"field": "stats", "type": "nominal"}}},
    {"data": {"name": "labels"}, "transform": [{"filter": "datum.panel === 'Thrombin'"}], "mark": {"type": "text", "align": "right", "baseline": "middle", "fontSize": 23, "dx": -12, "dy": -13.5, "fill": "#000000"}, "encoding": {"x": {"datum": 7, "type": "quantitative", "scale": {"domain": [-7, 7], "nice": false, "zero": false}}, "y": {"datum": -7, "type": "quantitative", "scale": {"domain": [-7, 7], "nice": false, "zero": false}}, "text": {"field": "n", "type": "nominal"}}}
   ]},
  {"width": 454, "height": 453, "title": "p38",
   "layer": [
    {"encoding": {"x": {"field": "x", "type": "quantitative", "scale": {"domain": [-7, 7], "nice": false, "zero": false}, "axis": {"values": [-5, -2.5, 0, 2.5, 5], "format": ".1f", "labels": true, "title": null}},
                  "y": {"field": "y", "type": "quantitative", "scale": {"domain": [-7, 7], "nice": false, "zero": false}, "axis": {"values": [-6, -4, -2, 0, 2, 4, 6], "labels": false, "title": null}}},
     "layer": [
      {"data": {"name": "band"}, "mark": {"type": "area", "color": "#f2f2f2", "clip": true}, "encoding": {"y2": {"field": "y2"}}},
      {"data": {"name": "diag"}, "mark": {"type": "line", "color": "#000000", "strokeWidth": 1, "clip": true}, "encoding": {}},
      {"data": {"name": "fits"}, "transform": [{"filter": "datum.panel === 'p38'"}], "mark": {"type": "line", "color": "#ff1a1a", "strokeWidth": 1.2, "clip": true}, "encoding": {}},
      {"data": {"name": "points"}, "transform": [{"filter": "datum.panel === 'p38'"}], "mark": {"type": "errorbar", "ticks": false, "thickness": 1.8, "color": "#3b7fad"}, "encoding": {"yError": {"field": "err"}}},
      {"data": {"name": "points"}, "transform": [{"filter": "datum.panel === 'p38'"}], "mark": {"type": "circle", "size": 22, "color": "#105888", "opacity": 1}, "encoding": {}}
     ]},
    {"data": {"name": "labels"}, "transform": [{"filter": "datum.panel === 'p38'"}], "mark": {"type": "text", "align": "left", "baseline": "middle", "lineBreak": "\n", "lineHeight": 35.8, "fontSize": 23, "dx": 5, "dy": 26, "fill": "#000000"}, "encoding": {"x": {"datum": -7, "type": "quantitative", "scale": {"domain": [-7, 7], "nice": false, "zero": false}}, "y": {"datum": 7, "type": "quantitative", "scale": {"domain": [-7, 7], "nice": false, "zero": false}}, "text": {"field": "stats", "type": "nominal"}}},
    {"data": {"name": "labels"}, "transform": [{"filter": "datum.panel === 'p38'"}], "mark": {"type": "text", "align": "right", "baseline": "middle", "fontSize": 23, "dx": -12, "dy": -13.5, "fill": "#000000"}, "encoding": {"x": {"datum": 7, "type": "quantitative", "scale": {"domain": [-7, 7], "nice": false, "zero": false}}, "y": {"datum": -7, "type": "quantitative", "scale": {"domain": [-7, 7], "nice": false, "zero": false}}, "text": {"field": "n", "type": "nominal"}}}
   ]}
 ],
 "config": {
  "font": "DejaVu Sans",
  "view": {"stroke": "#8c8c8c", "strokeWidth": 1.5},
  "axis": {"domain": false, "grid": false, "tickSize": 3.5, "tickColor": "#444444", "tickWidth": 1, "labelFont": "DejaVu Sans", "labelFontSize": 13, "labelColor": "#111111", "labelPadding": 3, "titleFont": "DejaVu Sans", "titleFontSize": 28, "titleFontWeight": "normal", "titleColor": "#000000"},
  "title": {"font": "DejaVu Sans", "fontSize": 28, "fontWeight": "normal", "color": "#000000", "offset": 0}
 }
}
